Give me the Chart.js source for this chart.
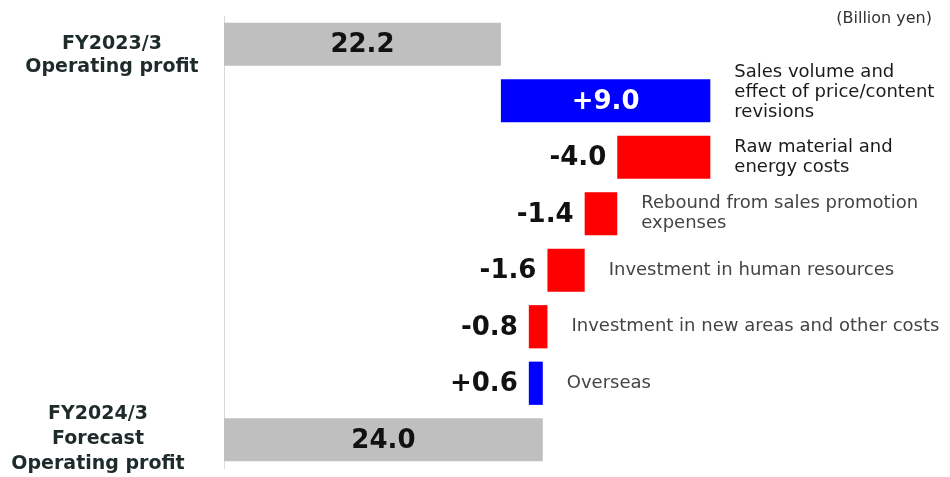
<!DOCTYPE html>
<html>
<head>
<meta charset="utf-8">
<script src="https://cdn.jsdelivr.net/npm/chart.js@4"></script>
<style>
  html, body { margin: 0; padding: 0; background: #fff; }
  #wrap { position: relative; width: 950px; height: 477px; }
</style>
</head>
<body>
<div id="wrap"><canvas id="bridgeChart"></canvas></div>
<script>
const startLabel = ['FY2023/3', 'Operating profit'];
const endLabel = ['FY2024/3', 'Forecast', 'Operating profit'];
const factorLabels = [
    ['Sales volume and', 'effect of price/content', 'revisions'],
    ['Raw material and', 'energy costs'],
    ['Rebound from sales promotion', 'expenses'],
    ['Investment in human resources'],
    ['Investment in new areas and other costs'],
    ['Overseas']
];
const startValue = 22.2;
const changes = [9.0, -4.0, -1.4, -1.6, -0.8, 0.6];
const endValue = 24.0;
const unitNote = '(Billion yen)';

// floating bars [from, to]
const bars = [[10.3, startValue]];
let run = startValue;
changes.forEach(c => { bars.push([run, run + c]); run += c; });
bars.push([10.3, endValue]);

const colors = ['#bfbfbf'].concat(changes.map(c => c > 0 ? '#0000ff' : '#ff0000'), ['#bfbfbf']);
const rowNames = [startLabel.join(' ')].concat(factorLabels.map(l => l.join(' ')), [endLabel.join(' ')]);

const labelPlugin = {
    id: 'bridgeLabels',
    afterDatasetsDraw(chart) {
        const ctx = chart.ctx;
        const meta = chart.getDatasetMeta(0);
        const last = meta.data.length - 1;
        ctx.save();
        meta.data.forEach((bar, i) => {
            const left = Math.min(bar.x, bar.base);
            const right = Math.max(bar.x, bar.base);
            const y = bar.y;
            ctx.textBaseline = 'middle';
            ctx.font = 'bold 26px "DejaVu Sans"';
            if (i === 0 || i === last) {
                const v = i === 0 ? startValue : endValue;
                ctx.fillStyle = '#111';
                ctx.textAlign = 'center';
                ctx.fillText(v.toFixed(1), (left + right) / 2, y + 1);
                return;
            }
            const c = changes[i - 1];
            const txt = (c > 0 ? '+' : '-') + Math.abs(c).toFixed(1);
            if (right - left > 120) {
                ctx.fillStyle = '#fff';
                ctx.textAlign = 'center';
                ctx.fillText(txt, (left + right) / 2, y + 1);
            } else {
                ctx.fillStyle = '#111';
                ctx.textAlign = 'right';
                ctx.fillText(txt, left - 11, y + 1);
            }
            // factor description
            const lines = factorLabels[i - 1];
            const lh = 20;
            ctx.font = '18px "DejaVu Sans"';
            ctx.fillStyle = i <= 2 ? '#1a1a1a' : '#444';
            ctx.textAlign = 'left';
            const y0 = y - (lines.length - 1) * lh / 2 - (i === 1 ? 8 : 0);
            lines.forEach((t, k) => ctx.fillText(t, right + 24, y0 + k * lh));
        });

        // left side labels
        ctx.font = 'bold 19px "DejaVu Sans"';
        ctx.fillStyle = '#1f2b2b';
        ctx.textAlign = 'center';
        ctx.textBaseline = 'middle';
        const y1 = meta.data[0].y;
        startLabel.forEach((t, k) => ctx.fillText(t, 112, y1 + k * 23));
        const y2 = meta.data[last].y;
        endLabel.forEach((t, k) => ctx.fillText(t, 98, y2 - 26 + k * 25));

        // unit
        ctx.font = '16px "DejaVu Sans"';
        ctx.fillStyle = '#333';
        ctx.textAlign = 'right';
        ctx.fillText(unitNote, 932, 19);
        ctx.restore();
    }
};

new Chart(document.getElementById('bridgeChart'), {
    type: 'bar',
    data: {
        labels: rowNames,
        datasets: [{
            data: bars,
            backgroundColor: colors,
            borderWidth: 0,
            barPercentage: 0.9,
            categoryPercentage: 0.85
        }]
    },
    options: {
        indexAxis: 'y',
        responsive: true,
        maintainAspectRatio: false,
        animation: false,
        layout: { padding: { top: 16, bottom: 9, left: 0, right: 0 } },
        plugins: { legend: { display: false }, tooltip: { enabled: false } },
        scales: {
            x: { display: false, min: 10.3, max: 41.5 },
            y: {
                ticks: { display: false },
                grid: { display: false },
                border: { display: true, color: '#d9d9d9', width: 1 },
                afterFit: s => { s.width = 224; }
            }
        }
    },
    plugins: [labelPlugin]
});
</script>
</body>
</html>
